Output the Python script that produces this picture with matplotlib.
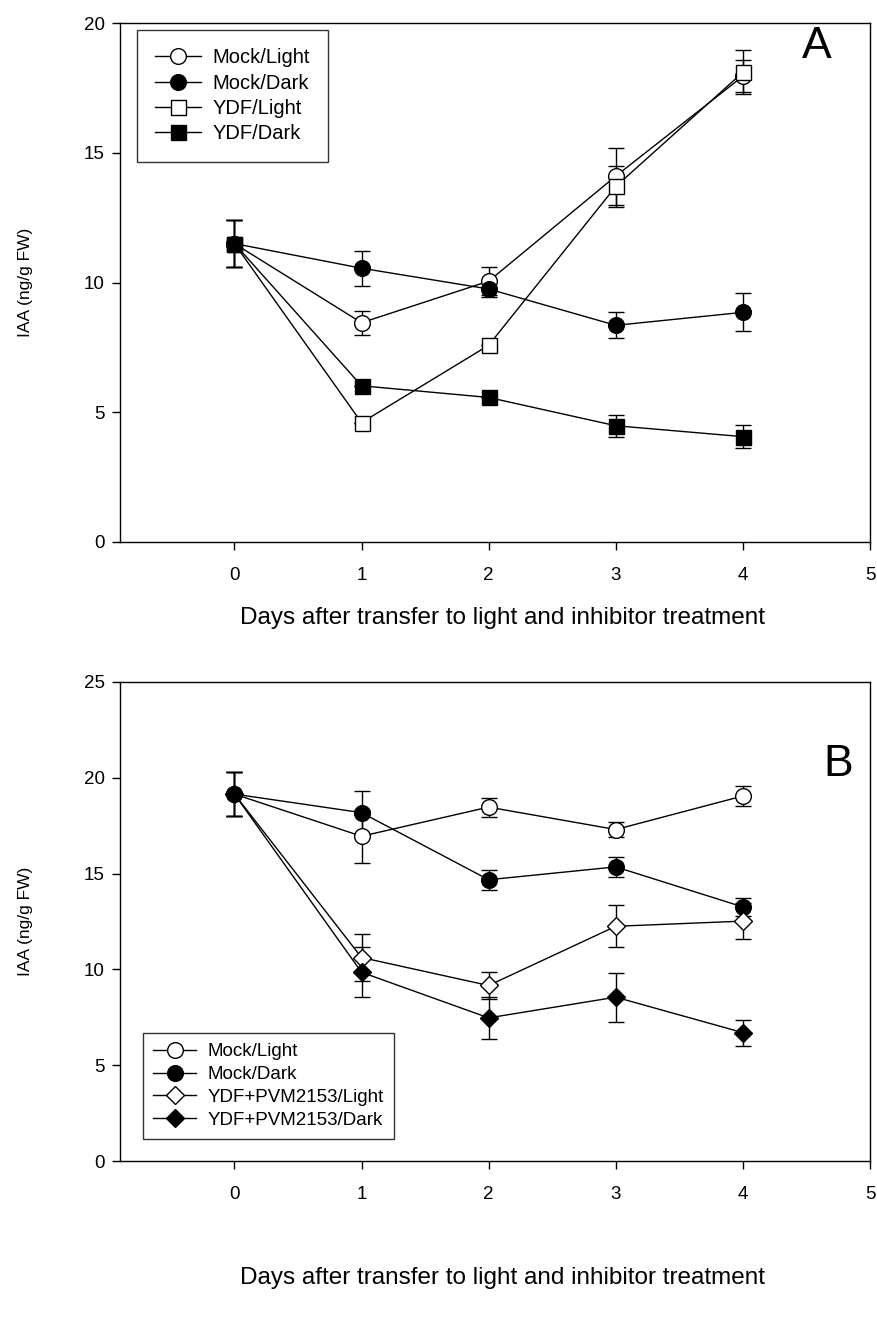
import matplotlib
matplotlib.use("Agg")
import matplotlib.pyplot as plt
from matplotlib.lines import Line2D

plt.rcParams['font.family'] = ['Liberation Sans', 'DejaVu Sans']

days = [0, 1, 2, 3, 4]
x_ticks = [0, 1, 2, 3, 4, 5]

# Panel A
a_labels = ["Mock/Light", "Mock/Dark", "YDF/Light", "YDF/Dark"]
a_mock_light = [11.5, 8.45, 10.05, 14.1, 17.95]
a_mock_light_err = [0.9, 0.46, 0.55, 1.1, 0.62]
a_mock_dark = [11.5, 10.55, 9.75, 8.35, 8.85]
a_mock_dark_err = [0.9, 0.67, 0.3, 0.5, 0.73]
a_ydf_light = [11.5, 4.6, 7.58, 13.7, 18.1]
a_ydf_light_err = [0.9, 0.0, 0.0, 0.8, 0.85]
a_ydf_dark = [11.5, 6.02, 5.57, 4.48, 4.06]
a_ydf_dark_err = [0.9, 0.0, 0.0, 0.43, 0.45]
a_yticks = [0, 5, 10, 15, 20]

# Panel B
b_labels = ["Mock/Light", "Mock/Dark", "YDF+PVM2153/Light", "YDF+PVM2153/Dark"]
b_mock_light = [19.15, 16.95, 18.47, 17.3, 19.05]
b_mock_light_err = [1.14, 1.38, 0.5, 0.37, 0.5]
b_mock_dark = [19.15, 18.18, 14.68, 15.35, 13.26]
b_mock_dark_err = [1.14, 1.15, 0.52, 0.54, 0.45]
b_pvm_light = [19.15, 10.62, 9.16, 12.25, 12.52]
b_pvm_light_err = [1.14, 1.25, 0.7, 1.1, 0.95]
b_pvm_dark = [19.15, 9.85, 7.47, 8.55, 6.7]
b_pvm_dark_err = [1.14, 1.3, 1.1, 1.28, 0.68]
b_yticks = [0, 5, 10, 15, 20, 25]

W, H = 877, 1317
fig = plt.figure(figsize=(W / 100, H / 100), dpi=100)

def make_ax(left, right, top, bottom):
    return fig.add_axes([left / W, 1 - bottom / H, (right - left) / W, (bottom - top) / H])

axA = make_ax(120, 870, 23, 542)
axB = make_ax(120, 870, 682, 1161)

def draw_series(ax, y, err, marker, filled, ms):
    ax.errorbar(days, y, yerr=err, fmt='-', color='black', lw=1.0,
                marker=marker, ms=ms, mfc='black' if filled else 'white',
                mec='black', mew=1.0, ecolor='black', elinewidth=1.0,
                capsize=5.6, capthick=1.0)
    return Line2D([], [], color='black', lw=1.0, marker=marker, ms=ms,
                  mfc='black' if filled else 'white', mec='black', mew=1.0)

hA = [draw_series(axA, a_mock_light, a_mock_light_err, 'o', False, 11.3),
      draw_series(axA, a_mock_dark, a_mock_dark_err, 'o', True, 11.3),
      draw_series(axA, a_ydf_light, a_ydf_light_err, 's', False, 10.8),
      draw_series(axA, a_ydf_dark, a_ydf_dark_err, 's', True, 10.8)]

hB = [draw_series(axB, b_mock_light, b_mock_light_err, 'o', False, 11.3),
      draw_series(axB, b_mock_dark, b_mock_dark_err, 'o', True, 11.3),
      draw_series(axB, b_pvm_light, b_pvm_light_err, 'D', False, 9.0),
      draw_series(axB, b_pvm_dark, b_pvm_dark_err, 'D', True, 9.0)]

for ax, yt, ylim in [(axA, a_yticks, (0, 20)), (axB, b_yticks, (0, 25))]:
    ax.set_xlim(-0.9, 5)
    ax.set_ylim(*ylim)
    ax.set_xticks(x_ticks)
    ax.set_yticks(yt)
    ax.tick_params(direction='out', length=6, width=1.0, labelsize=13.5)
    ax.tick_params(axis='x', pad=12)
    ax.tick_params(axis='y', pad=5)
    for s in ax.spines.values():
        s.set_linewidth(1.0)
    ax.set_ylabel("IAA (ng/g FW)", fontsize=12.5)
    ax.set_xlabel("Days after transfer to light and inhibitor treatment", fontsize=17.5)

axA.yaxis.set_label_coords((33 - 120) / 750, 0.5)
axB.yaxis.set_label_coords((33 - 120) / 750, 0.5)
axA.xaxis.set_label_coords(0.51, (542 - 607) / 519)
axB.xaxis.set_label_coords(0.51, (1161 - 1267) / 479)

axA.text((817 - 120) / 750, (542 - 47) / 519, "A", transform=axA.transAxes,
         fontsize=32, ha='center', va='center')
axB.text((838 - 120) / 750, (1161 - 765) / 479, "B", transform=axB.transAxes,
         fontsize=32, ha='center', va='center')

legA = axA.legend(hA, a_labels, loc='upper left', bbox_to_anchor=(17 / 750, (542 - 30) / 519),
                  fontsize=14.5, frameon=True, fancybox=False, edgecolor='black',
                  handlelength=2.3, handletextpad=0.55, labelspacing=0.32,
                  borderpad=0.9, borderaxespad=0)
legA.get_frame().set_linewidth(1.0)

legB = axB.legend(hB, b_labels, loc='upper left', bbox_to_anchor=(23 / 750, (1161 - 1033) / 479),
                  fontsize=13.5, frameon=True, fancybox=False, edgecolor='black',
                  handlelength=2.3, handletextpad=0.6, labelspacing=0.3,
                  borderpad=0.55, borderaxespad=0)
legB.get_frame().set_linewidth(1.0)

fig.savefig("out.png", dpi=100)
